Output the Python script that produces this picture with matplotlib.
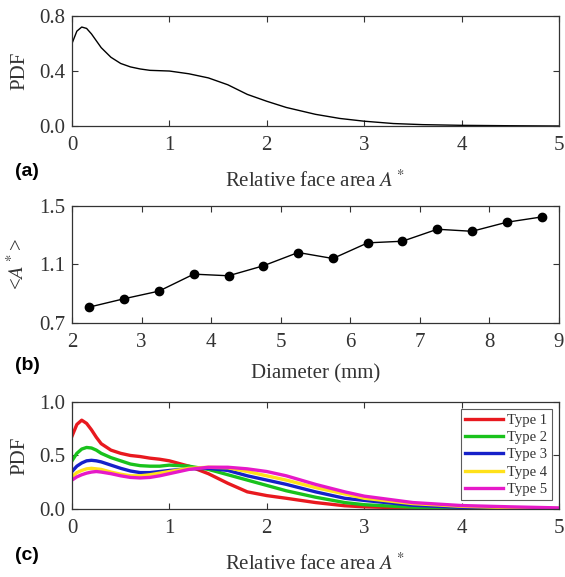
import matplotlib
matplotlib.use("Agg")
import matplotlib.pyplot as plt

# panel (a): overall PDF of relative face area
a_x = [0.0, 0.05, 0.1, 0.15, 0.2, 0.3, 0.4, 0.5, 0.6, 0.7, 0.8, 1.0, 1.2, 1.4,
       1.6, 1.8, 2.0, 2.2, 2.5, 2.75, 3.0, 3.3, 3.6, 4.0, 4.5, 5.0]
a_pdf = [0.60, 0.69, 0.72, 0.71, 0.67, 0.57, 0.50, 0.455, 0.43, 0.415, 0.405, 0.40,
         0.38, 0.35, 0.30, 0.23, 0.18, 0.135, 0.085, 0.055, 0.035, 0.018, 0.01,
         0.005, 0.002, 0.0]

# panel (b): mean relative face area vs diameter
diam = [2.25, 2.75, 3.25, 3.75, 4.25, 4.75, 5.25, 5.75, 6.25, 6.75, 7.25, 7.75, 8.25, 8.75]
mean_a = [0.809, 0.866, 0.918, 1.034, 1.023, 1.091, 1.182, 1.141, 1.248, 1.259,
          1.341, 1.327, 1.389, 1.425]

# panel (c): PDF per type
c_x = [0.0, 0.05, 0.1, 0.15, 0.2, 0.25, 0.3, 0.4, 0.5, 0.6, 0.7, 0.8, 0.9, 1.0,
       1.2, 1.4, 1.6, 1.8, 2.0, 2.2, 2.5, 2.8, 3.0, 3.5, 4.0, 4.5, 5.0]
type1 = [0.68, 0.79, 0.83, 0.80, 0.74, 0.67, 0.61, 0.55, 0.52, 0.50, 0.49, 0.475,
         0.465, 0.45, 0.40, 0.33, 0.24, 0.16, 0.125, 0.10, 0.06, 0.03, 0.02, 0.008,
         0.003, 0.001, 0.0]
type2 = [0.45, 0.52, 0.56, 0.575, 0.57, 0.55, 0.52, 0.48, 0.45, 0.42, 0.405, 0.40,
         0.40, 0.41, 0.40, 0.37, 0.32, 0.27, 0.22, 0.17, 0.11, 0.06, 0.04, 0.016,
         0.006, 0.002, 0.0]
type3 = [0.35, 0.40, 0.43, 0.45, 0.455, 0.45, 0.44, 0.41, 0.38, 0.355, 0.34, 0.34,
         0.35, 0.36, 0.375, 0.38, 0.36, 0.31, 0.27, 0.23, 0.16, 0.10, 0.08, 0.035,
         0.015, 0.006, 0.002]
type4 = [0.30, 0.34, 0.36, 0.375, 0.38, 0.375, 0.37, 0.345, 0.325, 0.31, 0.31, 0.32,
         0.335, 0.35, 0.38, 0.39, 0.385, 0.35, 0.31, 0.27, 0.20, 0.14, 0.10, 0.05,
         0.025, 0.012, 0.005]
type5 = [0.27, 0.30, 0.32, 0.335, 0.345, 0.35, 0.345, 0.33, 0.31, 0.295, 0.29, 0.295,
         0.31, 0.33, 0.37, 0.39, 0.39, 0.375, 0.35, 0.31, 0.23, 0.16, 0.12, 0.06,
         0.032, 0.02, 0.01]
type_names = ["Type 1", "Type 2", "Type 3", "Type 4", "Type 5"]
type_colors = ["#e8191f", "#19c21c", "#1621c9", "#ffe11a", "#e619c8"]

plt.rcParams["font.family"] = ["Liberation Serif", "DejaVu Serif"]
plt.rcParams["mathtext.fontset"] = "stix"
plt.rcParams["font.size"] = 15
plt.rcParams["text.color"] = "#333333"
plt.rcParams["axes.labelcolor"] = "#333333"
plt.rcParams["xtick.color"] = "#333333"
plt.rcParams["ytick.color"] = "#333333"
plt.rcParams["axes.edgecolor"] = "#333333"

fig = plt.figure(figsize=(5.65, 5.77), dpi=100)
left, width = 0.1274, 0.862
ax_a = fig.add_axes([left, 0.7816, width, 0.1906])
ax_b = fig.add_axes([left, 0.4402, width, 0.2028])
ax_c = fig.add_axes([left, 0.1179, width, 0.1854])


def style(ax):
    ax.tick_params(direction="in", top=True, right=True, length=4, width=0.8,
                   labelsize=15)
    ax.tick_params(axis="x", pad=7)
    ax.tick_params(axis="y", pad=5)
    for s in ax.spines.values():
        s.set_linewidth(0.9)


ax_a.plot(a_x, a_pdf, color="black", lw=1.0)
ax_a.set_xlim(0, 5)
ax_a.set_ylim(0, 0.8)
ax_a.set_yticks([0.0, 0.4, 0.8])
ax_a.set_yticklabels(["0.0", "0.4", "0.8"])
ax_a.set_xticks([0, 1, 2, 3, 4, 5])
ax_a.set_ylabel("PDF", labelpad=7)
ax_a.set_xlabel("Relative face area $A^*$", labelpad=11)
style(ax_a)

ax_b.plot(diam, mean_a, color="black", lw=1.0, marker="o", markersize=6)
ax_b.set_xlim(2, 9)
ax_b.set_ylim(0.7, 1.5)
ax_b.set_yticks([0.7, 1.1, 1.5])
ax_b.set_xticks(range(2, 10))
ax_b.set_ylabel("<$A^*$>", labelpad=7)
ax_b.set_xlabel("Diameter (mm)", labelpad=9)
style(ax_b)

for ys, name, col in zip([type1, type2, type3, type4, type5], type_names, type_colors):
    ax_c.plot(c_x, ys, color=col, lw=2.4, label=name)
ax_c.set_xlim(0, 5)
ax_c.set_ylim(0, 1.0)
ax_c.set_yticks([0.0, 0.5, 1.0])
ax_c.set_xticks([0, 1, 2, 3, 4, 5])
ax_c.set_ylabel("PDF", labelpad=7)
ax_c.set_xlabel("Relative face area $A^*$", labelpad=11)
style(ax_c)
leg = ax_c.legend(loc="upper right", fontsize=10.5, frameon=True, fancybox=False,
                  edgecolor="#333333", handlelength=2.6, labelspacing=0.28,
                  borderpad=0.3, handletextpad=0.3, borderaxespad=0.5)
leg.get_frame().set_linewidth(0.8)

for lab, yy in [("(a)", 0.702), ("(b)", 0.367), ("(c)", 0.038)]:
    fig.text(0.027, yy, lab, fontsize=14, fontweight="bold", family="Liberation Sans",
             va="center", ha="left", color="black")

fig.savefig("out.png", dpi=100)
